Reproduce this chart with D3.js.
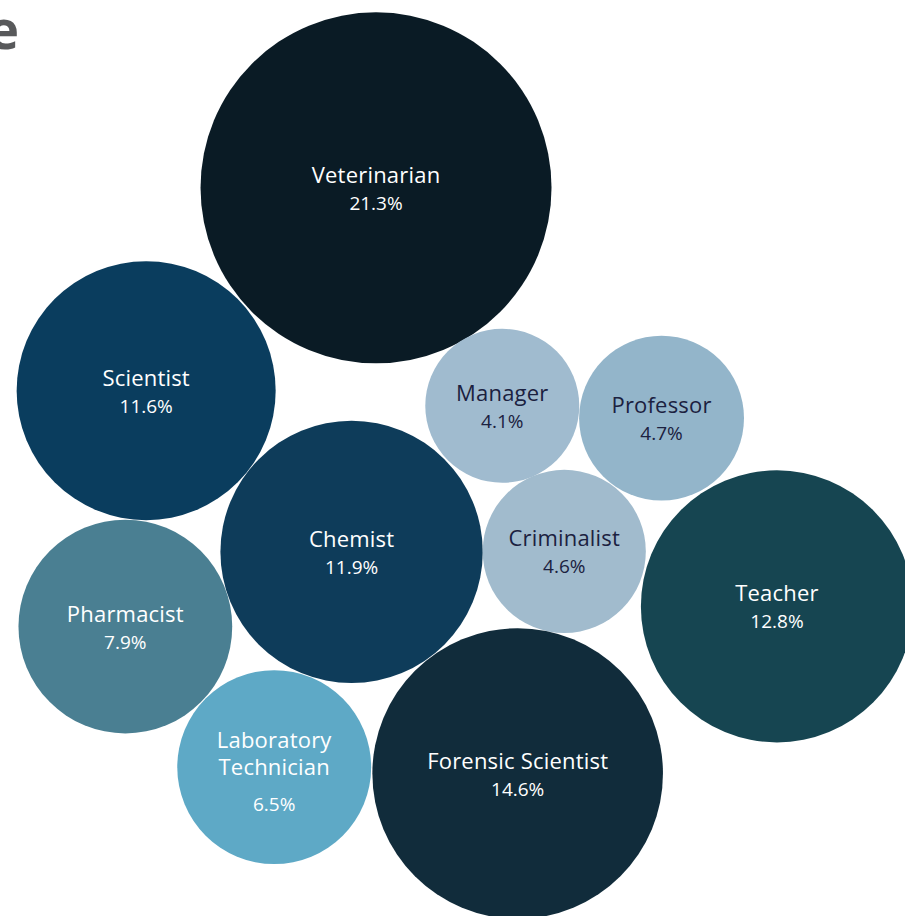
<!DOCTYPE html>
<html>
<head>
<meta charset="utf-8">
<script src="https://cdn.jsdelivr.net/npm/d3@7"></script>
<style>
  html, body { margin: 0; padding: 0; background: #ffffff; overflow: hidden; }
  svg { display: block; }
</style>
</head>
<body>
<div id="chart"></div>
<script>
// Occupations and their share (%)
const categories = ["Veterinarian", "Scientist", "Chemist", "Manager", "Professor",
                    "Criminalist", "Teacher", "Pharmacist", "Laboratory Technician", "Forensic Scientist"];
const values = [21.3, 11.6, 11.9, 4.1, 4.7, 4.6, 12.8, 7.9, 6.5, 14.6];

// Hand-arranged bubble centres, in layout units (0–100 across, 0–100 down)
const anchorX = [41.55, 16.15, 38.85, 55.5, 73.1, 62.35, 85.85, 13.85, 30.3, 57.2];
const anchorY = [20.5, 42.65, 60.25, 44.3, 45.65, 60.2, 66.2, 68.4, 83.75, 84.45];

const palette = ["#0a1b25", "#0a3d5e", "#0e3c5a", "#a0bbcf", "#93b5ca",
                 "#a1bbcd", "#164551", "#4a7f92", "#5ea9c6", "#112c3b"];
const lightText = "#ffffff";
const darkText = "#1b2140";

const W = 905, H = 916;
const svg = d3.select("#chart").append("svg")
  .attr("width", W).attr("height", H)
  .style("font-family", "'Open Sans', sans-serif");

const x = d3.scaleLinear().domain([0, 100]).range([0, W]);
const y = d3.scaleLinear().domain([0, 100]).range([0, H]);
const r = d3.scaleSqrt().domain([0, 21.3]).range([0, 175.5]);

const data = categories.map((c, i) => ({
  name: c, value: values[i], cx: x(anchorX[i]), cy: y(anchorY[i]),
  fill: palette[i], light: [3, 4, 5].includes(i)
}));

// Title fragment at the top-left edge
svg.append("text")
  .attr("x", 19).attr("y", 49)
  .attr("text-anchor", "end")
  .attr("fill", "#58595b")
  .style("font-size", "53px")
  .style("font-weight", 700)
  .text("e");

const g = svg.selectAll("g.bubble").data(data).join("g")
  .attr("class", "bubble")
  .attr("transform", d => `translate(${d.cx},${d.cy})`);

g.append("circle")
  .attr("r", d => r(d.value))
  .attr("fill", d => d.fill);

g.each(function(d) {
  const sel = d3.select(this);
  const color = d.light ? darkText : lightText;
  const words = d.name === "Laboratory Technician" ? ["Laboratory", "Technician"] : [d.name];
  const nameBase = words.length === 2 ? -19 : -5;
  words.forEach((w, k) => {
    sel.append("text")
      .attr("text-anchor", "middle")
      .attr("y", nameBase + k * 27)
      .attr("fill", color)
      .style("font-size", "22px")
      .style("letter-spacing", "0.2px")
      .text(w);
  });
  sel.append("text")
    .attr("text-anchor", "middle")
    .attr("y", words.length === 2 ? 44 : 22)
    .attr("fill", color)
    .style("font-size", "19px")
    .text(d3.format(".1f")(d.value) + "%");
});
</script>
</body>
</html>
